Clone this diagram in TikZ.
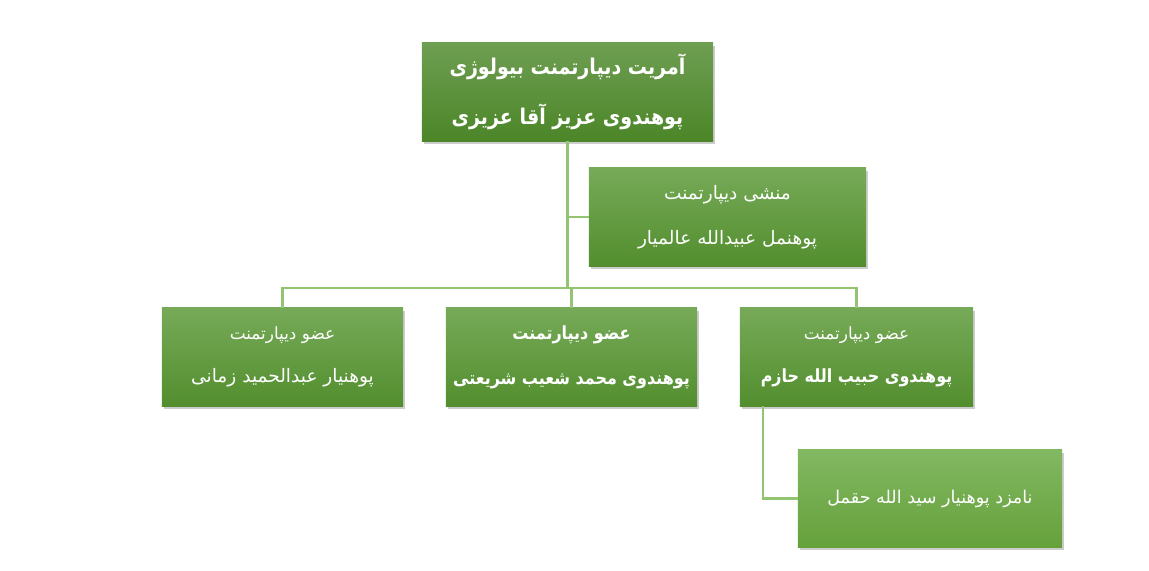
\documentclass[tikz,border=0pt]{standalone}
\usepackage{fontspec}
\newfontfamily\arabicfont[Script=Arabic]{DejaVu Sans}
\newfontfamily\arabicnarrow[Script=Arabic, FakeStretch=0.88]{DejaVu Sans}
\TeXXeTstate=1
\usetikzlibrary{shadows}
\definecolor{linkgreen}{HTML}{93C472}
\definecolor{boxtop}{HTML}{77AA58}
\definecolor{boxbot}{HTML}{528E2E}
\definecolor{headtop}{HTML}{6E9E52}
\definecolor{headbot}{HTML}{4C8628}
\definecolor{candtop}{HTML}{82B862}
\definecolor{candbot}{HTML}{65A13B}
\tikzset{
  post/.style={draw=none, top color=boxtop, bottom color=boxbot,
    drop shadow={shadow xshift=1.5pt, shadow yshift=-1.8pt, opacity=.4},
    text=white, align=center, inner sep=0pt, minimum height=2.45cm, font=\arabicfont},
  link/.style={draw=linkgreen, line width=1.6pt}
}

\begin{document}
\begin{tikzpicture}[x=0.025cm, y=-0.025cm]
        \useasboundingbox (0, 0) rectangle (1149, 571);
        % nodes
        \node[post, top color=headtop, bottom color=headbot, minimum width=7.275cm,
          font=\arabicnarrow\bfseries\fontsize{15.4}{18}\selectfont] (head) at (567.5, 92)
          {\beginR آمریت دیپارتمنت بیولوژی\endR\\[16pt]\beginR پوهندوی عزیز آقا عزیزی\endR};
        \node[post, minimum width=6.925cm,
          font=\arabicfont\fontsize{13.2}{16}\selectfont] (secr) at (727.5, 217)
          {\beginR منشی دیپارتمنت\endR\\[16pt]\beginR پوهنمل عبیدالله عالمیار\endR};
        \node[post, minimum width=6.025cm,
          font=\arabicfont\fontsize{12}{15}\selectfont] (left) at (282.5, 357)
          {\beginR عضو دیپارتمنت\endR\\[16pt]{\fontsize{13.2}{16}\selectfont\beginR پوهنیار عبدالحمید زمانی\endR}};
        \node[post, minimum width=6.275cm,
          font=\arabicnarrow\bfseries\fontsize{12.9}{15}\selectfont] (mid) at (571.5, 357)
          {\beginR عضو دیپارتمنت\endR\\[17pt]\beginR پوهندوی محمد شعیب شریعتی\endR};
        \node[post, minimum width=5.825cm,
          font=\arabicfont\fontsize{12}{15}\selectfont] (right) at (856.5, 357)
          {\beginR عضو دیپارتمنت\endR\\[16pt]{\arabicnarrow\bfseries\fontsize{12.9}{15}\selectfont\beginR پوهندوی حبیب الله حازم\endR}};
        \node[post, top color=candtop, bottom color=candbot, minimum width=6.6cm, minimum height=2.425cm,
          font=\arabicfont\fontsize{12.5}{15}\selectfont] (cand) at (930, 498.5)
          {\beginR نامزد پوهنیار سید الله حقمل\endR};
        % lines
        \coordinate (bus) at (567.5, 288);
        \draw[link] (head.south) |- (secr.west);
        \draw[link] (head.south) -- (bus);
        \draw[link] (left.north) |- (bus) -| (right.north);
        \draw[link] (mid.north) -- (mid.north |- bus);
        \draw[link] ([xshift=0.575cm]right.south west) |- (cand.west);
      \end{tikzpicture}
\end{document}
